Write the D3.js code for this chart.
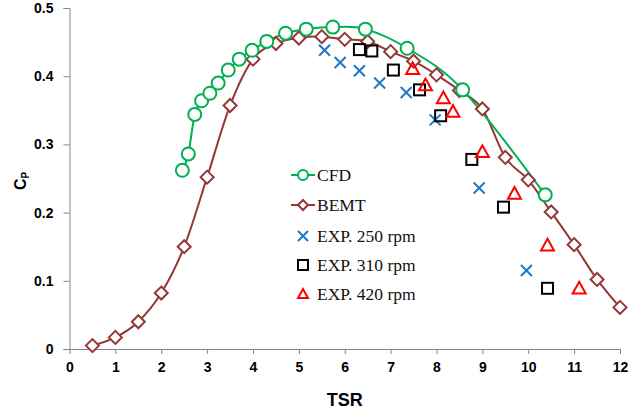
<!DOCTYPE html>
<html>
<head>
<meta charset="utf-8">
<script src="https://cdn.jsdelivr.net/npm/d3@7"></script>
<style>
  body { margin: 0; background: #fff; }
  .axis text { font-family: "Liberation Sans", Arial, sans-serif; font-weight: bold; font-size: 14px; fill: #000; }
  .axis path, .axis line { stroke: #868686; stroke-width: 1; }
</style>
</head>
<body>
<div class="chart"></div>
<script>
// data
const bemtTsr = [0.5, 1, 1.5, 2, 2.5, 3, 3.5, 4, 4.5, 5, 5.5, 6, 6.5, 7, 7.5, 8, 8.5, 9, 9.5, 10, 10.5, 11, 11.5, 12];
const bemtCp  = [0.005, 0.017, 0.040, 0.082, 0.150, 0.252, 0.357, 0.425, 0.448, 0.456, 0.458, 0.454, 0.451, 0.436, 0.422, 0.402, 0.379, 0.352, 0.281, 0.248, 0.201, 0.153, 0.102, 0.061];

const cfdTsr = [2.46, 2.59, 2.73, 2.88, 3.06, 3.24, 3.46, 3.70, 3.98, 4.30, 4.71, 5.16, 5.74, 6.45, 7.36, 8.57, 10.37];
const cfdCp  = [0.262, 0.286, 0.344, 0.364, 0.375, 0.390, 0.409, 0.425, 0.438, 0.451, 0.463, 0.469, 0.472, 0.469, 0.441, 0.380, 0.226];

const exp250Tsr = [5.56, 5.90, 6.32, 6.76, 7.34, 7.97, 8.93, 9.96];
const exp250Cp  = [0.438, 0.420, 0.408, 0.390, 0.376, 0.336, 0.236, 0.115];

const exp310Tsr = [6.32, 6.59, 7.06, 7.63, 8.09, 8.77, 9.46, 10.42];
const exp310Cp  = [0.439, 0.437, 0.409, 0.380, 0.342, 0.278, 0.208, 0.089];

const exp420Tsr = [7.48, 7.76, 8.15, 8.36, 9.00, 9.70, 10.42, 11.11];
const exp420Cp  = [0.411, 0.387, 0.368, 0.348, 0.289, 0.228, 0.152, 0.089];

const xTicks = [0, 1, 2, 3, 4, 5, 6, 7, 8, 9, 10, 11, 12];
const yTicks = [0, 0.1, 0.2, 0.3, 0.4, 0.5];
const legendLabels = ['CFD', 'BEMT', 'EXP. 250 rpm', 'EXP. 310 rpm', 'EXP. 420 rpm'];

const width = 637;
const height = 414;
const margin = { top: 8, right: 17, bottom: 65, left: 69.5 };
const chart_width = width - margin.left - margin.right;
const chart_height = height - margin.top - margin.bottom;

const GREEN = '#00b050', BROWN = '#953735', BLUE = '#1f78c8', RED = '#ff0000';

const svg = d3.select('.chart').append('svg')
  .attr('width', width).attr('height', height);
const g = svg.append('g').attr('transform', `translate(${margin.left},${margin.top})`);

const x = d3.scaleLinear().domain([0, 12]).range([0, chart_width]);
const y = d3.scaleLinear().domain([0, 0.5]).range([chart_height, 0]);

// axes
g.append('g').attr('class', 'axis')
  .attr('transform', `translate(0,${chart_height})`)
  .call(d3.axisBottom(x).tickValues(xTicks).tickSizeInner(5).tickSizeOuter(0).tickPadding(8).tickFormat(d3.format('d')));
g.append('g').attr('class', 'axis')
  .call(d3.axisLeft(y).tickValues(yTicks).tickSizeInner(6).tickSizeOuter(6).tickPadding(10).tickFormat(d => d === 0 ? '0' : d3.format('.1f')(d)));

// axis titles
svg.append('text').attr('x', margin.left + x(6)).attr('y', 406)
  .attr('text-anchor', 'middle')
  .style('font-family', '"Liberation Sans", Arial, sans-serif').style('font-weight', 'bold').style('font-size', '18px')
  .text('TSR');
const yl = svg.append('text').attr('transform', 'translate(26,190) rotate(-90)')
  .style('font-family', '"Liberation Sans", Arial, sans-serif').style('font-weight', 'bold').style('font-size', '16px');
yl.append('tspan').text('C');
yl.append('tspan').attr('dy', 3).style('font-size', '10px').text('P');

// lines (uniform Catmull-Rom, close to Excel's smoothed line)
const line = d3.line().x(d => x(d[0])).y(d => y(d[1])).curve(d3.curveCatmullRom.alpha(0));
const cfd = cfdTsr.map((t, i) => [t, cfdCp[i]]);
const bemt = bemtTsr.map((t, i) => [t, bemtCp[i]]);

g.append('path').datum(bemt).attr('d', line).attr('fill', 'none').attr('stroke', BROWN).attr('stroke-width', 2);
g.append('path').datum(cfd).attr('d', line).attr('fill', 'none').attr('stroke', GREEN).attr('stroke-width', 2);

// marker drawers
function drawMarker(sel, type, s) {
  if (type === 'circle') {
    sel.append('circle').attr('r', s / 2).attr('fill', '#fff').attr('stroke', GREEN).attr('stroke-width', 2);
  } else if (type === 'diamond') {
    sel.append('path').attr('d', `M0,${-s/2}L${s/2},0L0,${s/2}L${-s/2},0Z`).attr('fill', '#fff').attr('stroke', BROWN).attr('stroke-width', 2);
  } else if (type === 'x') {
    const h = s / 2;
    sel.append('path').attr('d', `M${-h},${-h}L${h},${h}M${-h},${h}L${h},${-h}`).attr('fill', 'none').attr('stroke', BLUE).attr('stroke-width', 2);
  } else if (type === 'square') {
    sel.append('rect').attr('x', -s/2).attr('y', -s/2).attr('width', s).attr('height', s).attr('fill', 'none').attr('stroke', '#000').attr('stroke-width', 2);
  } else if (type === 'triangle') {
    const h = s / 2;
    sel.append('path').attr('d', `M0,${-h}L${h},${h*0.8}L${-h},${h*0.8}Z`).attr('fill', 'none').attr('stroke', RED).attr('stroke-width', 2);
  }
}

function drawSeries(tsr, cp, type, s) {
  g.append('g').selectAll('g').data(tsr.map((t, i) => [t, cp[i]])).enter()
    .append('g').attr('transform', d => `translate(${x(d[0])},${y(d[1])})`)
    .each(function () { drawMarker(d3.select(this), type, s); });
}

drawSeries(bemtTsr, bemtCp, 'diamond', 13);
drawSeries(cfdTsr, cfdCp, 'circle', 13);
drawSeries(exp250Tsr, exp250Cp, 'x', 11);
drawSeries(exp310Tsr, exp310Cp, 'square', 11);
drawSeries(exp420Tsr, exp420Cp, 'triangle', 13);

// legend
const legendTypes = ['circle', 'diamond', 'x', 'square', 'triangle'];
const legendColors = [GREEN, BROWN, null, null, null];
const legendY = [175, 205, 236, 265, 294];
const legend = svg.append('g');
legendLabels.forEach((lab, i) => {
  const row = legend.append('g').attr('transform', `translate(303,${legendY[i]})`);
  if (legendColors[i]) {
    row.append('line').attr('x1', -12).attr('x2', 12).attr('stroke', legendColors[i]).attr('stroke-width', 2);
  }
  drawMarker(row, legendTypes[i], 10);
  row.append('text').attr('x', 14).attr('y', 6)
    .style('font-family', '"Liberation Serif", "Times New Roman", serif').style('font-size', '17.5px').style('fill', '#111')
    .text(lab);
});
</script>
</body>
</html>
